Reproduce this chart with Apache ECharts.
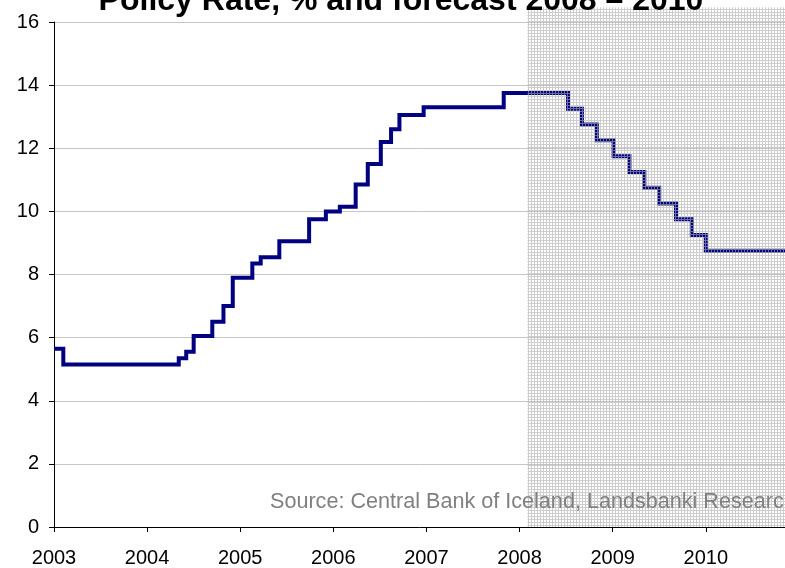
<!DOCTYPE html>
<html>
<head>
<meta charset="utf-8">
<style>
  html, body { margin: 0; padding: 0; background: #ffffff; }
  #chart { width: 785px; height: 568px; }
</style>
<script src="https://cdn.jsdelivr.net/npm/echarts@6/dist/echarts.min.js"></script>
</head>
<body>
<div id="chart"></div>
<script>
// Policy rate: each value holds from its start year until the next change
const changeYears = [
  2003.00, 2003.10, 2004.34, 2004.42, 2004.50, 2004.70, 2004.82, 2004.92,
  2005.13, 2005.22, 2005.42, 2005.74, 2005.92, 2006.07, 2006.24, 2006.37,
  2006.51, 2006.62, 2006.71, 2006.97, 2007.83,
  // forecast path
  2008.52, 2008.67, 2008.83, 2009.01, 2009.18, 2009.34, 2009.50, 2009.68,
  2009.85, 2010.00, 2010.851
];
const rates = [
  5.65, 5.15, 5.35, 5.55, 6.05, 6.50, 7.00, 7.90,
  8.35, 8.55, 9.05, 9.75, 10.00, 10.15, 10.85, 11.50,
  12.20, 12.60, 13.05, 13.30, 13.75,
  13.25, 12.75, 12.25, 11.75, 11.25, 10.75, 10.25, 9.75,
  9.25, 8.75, 8.75
];
const forecastStart = 2008.085;
const yearTicks = [2003, 2004, 2005, 2006, 2007, 2008, 2009, 2010];
const titleText = 'Policy Rate, % and forecast 2008 \u2013 2010';
const sourceText = 'Source: Central Bank of Iceland, Landsbanki Research';

const xMin = 2003;
const xMax = 2010.851;
const shadeTop = 16.47;
const FONT = '"Liberation Sans", Arial, Helvetica, sans-serif';

// fine grey grid hatch laid over the forecast period
const tile = document.createElement('canvas');
tile.width = 3; tile.height = 3;
const tctx = tile.getContext('2d');
tctx.fillStyle = 'rgba(175,175,175,0.62)';
tctx.fillRect(0, 0, 3, 1);
tctx.fillRect(0, 1, 1, 2);

const lineData = changeYears.map((y, i) => [y, rates[i]]);

const chart = echarts.init(document.getElementById('chart'), null, { renderer: 'canvas' });
chart.setOption({
  animation: false,
  backgroundColor: '#ffffff',
  grid: { left: 54, right: 0, top: 22, bottom: 38, containLabel: false },
  xAxis: {
    type: 'value',
    min: xMin,
    max: xMax,
    interval: 1,
    axisLine: { show: true, onZero: false, lineStyle: { color: '#000000', width: 1 } },
    axisTick: { show: true, inside: false, length: 5, lineStyle: { color: '#000000' } },
    axisLabel: {
      show: true,
      margin: 21,
      color: '#000000',
      fontFamily: FONT,
      fontSize: 20,
      showMaxLabel: false,
      formatter: v => (yearTicks.indexOf(Math.round(v)) >= 0 && Math.abs(v - Math.round(v)) < 1e-6) ? String(Math.round(v)) : ''
    },
    splitLine: { show: false }
  },
  yAxis: {
    type: 'value',
    min: 0,
    max: 16,
    interval: 2,
    axisLine: { show: true, lineStyle: { color: '#000000', width: 1 } },
    axisTick: { show: true, inside: false, length: 5, lineStyle: { color: '#000000' } },
    axisLabel: { margin: 15, color: '#000000', fontFamily: FONT, fontSize: 20 },
    splitLine: { show: true, lineStyle: { color: '#c6c6c6', width: 1 } }
  },
  series: [
    {
      name: 'Policy rate',
      type: 'line',
      step: 'end',
      data: lineData,
      showSymbol: false,
      symbol: 'none',
      z: 2,
      lineStyle: { color: '#000080', width: 4, cap: 'butt', join: 'miter' }
    }
  ],
  graphic: [
    {
      id: 'title',
      type: 'text',
      x: 401,
      y: 1,
      z: 100,
      style: {
        text: titleText,
        fill: '#000000',
        font: 'bold 32px ' + FONT,
        textAlign: 'center',
        textVerticalAlign: 'middle'
      }
    },
    {
      id: 'source',
      type: 'text',
      x: 270,
      y: 502,
      z: 100,
      style: {
        text: sourceText,
        fill: '#808080',
        font: '21.6px ' + FONT,
        textAlign: 'left',
        textVerticalAlign: 'middle'
      }
    }
  ]
});

// hatched forecast band, placed through the chart's own scales
const p0 = chart.convertToPixel({ gridIndex: 0 }, [forecastStart, 0]);
const p1 = chart.convertToPixel({ gridIndex: 0 }, [xMax, shadeTop]);
chart.setOption({
  graphic: [{
    id: 'forecastBand',
    type: 'rect',
    z: 10,
    silent: true,
    shape: { x: p0[0], y: p1[1], width: p1[0] - p0[0], height: p0[1] - p1[1] },
    style: { fill: { image: tile, repeat: 'repeat' } }
  }]
});
</script>
</body>
</html>
